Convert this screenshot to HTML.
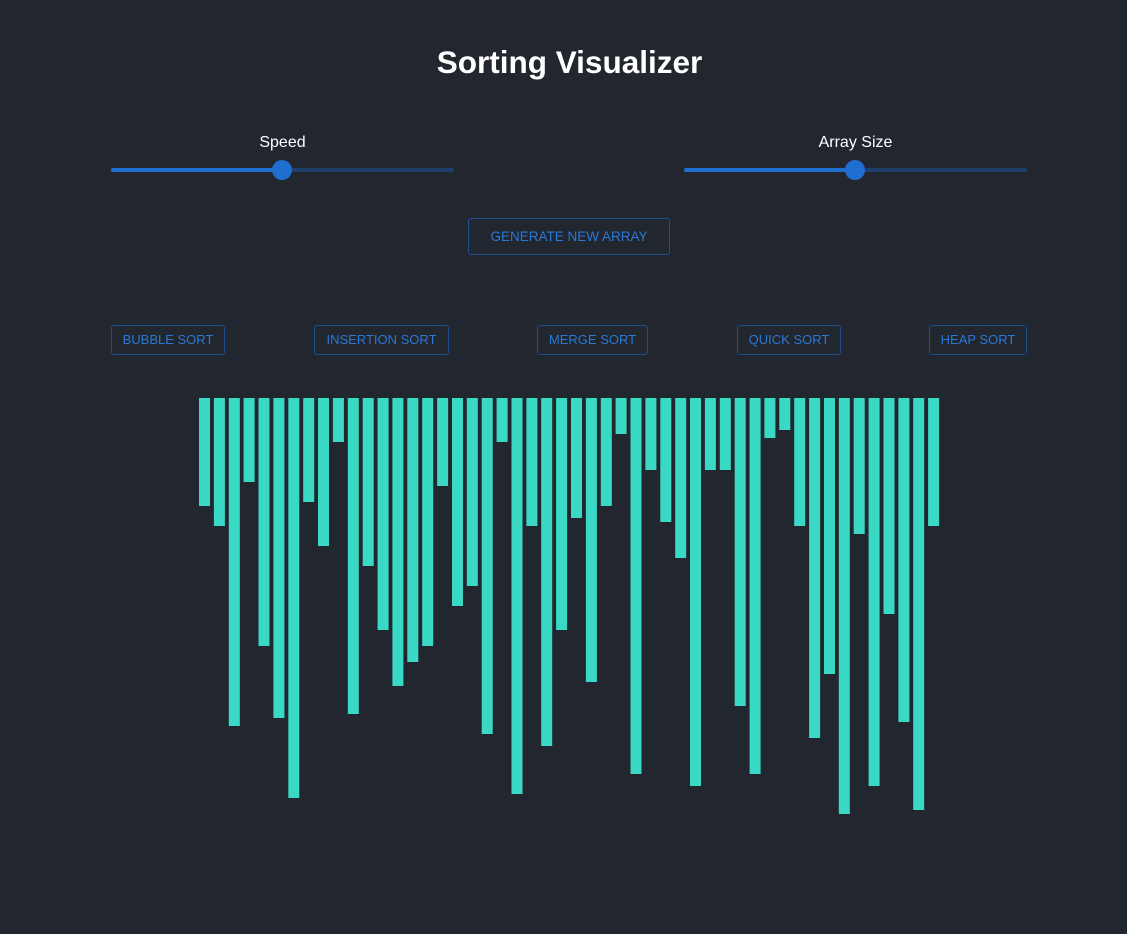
<!DOCTYPE html>
<html><head><meta charset="utf-8">
<style>
body{margin:0;width:1127px;height:934px;background:#22262e;font-family:"Liberation Sans",sans-serif;overflow:hidden;position:relative}
.abs{position:absolute}
h1{position:absolute;left:0;width:1139px;top:44px;margin:0;text-align:center;color:#fff;font-size:31.5px;font-weight:bold;letter-spacing:0px}
.lbl{color:#fff;font-size:16px;text-align:center;width:343px}
.track{height:4px;border-radius:2px;background:#1d3f6b;width:343px}
.fill{height:4px;border-radius:2px;background:#1f6fd0;position:absolute;left:0;top:0}
.thumb{width:20px;height:20px;border-radius:50%;background:#1f6fd0;position:absolute;top:-8px}
.btn{border:1px solid #1e4f8f;border-radius:3px;color:#2a78d6;font-size:13px;text-align:center;box-sizing:border-box;line-height:28px;height:30px}
</style></head><body>
<h1>Sorting Visualizer</h1>
<div class="abs lbl" style="left:111px;top:134px">Speed</div>
<div class="abs track" style="left:111px;top:168px"><div class="fill" style="width:171px"></div><div class="thumb" style="left:161px"></div></div>
<div class="abs lbl" style="left:684px;top:134px">Array Size</div>
<div class="abs track" style="left:684px;top:168px"><div class="fill" style="width:171px"></div><div class="thumb" style="left:161px"></div></div>
<div class="abs btn" style="left:468px;top:218px;width:202px;height:37px;line-height:35px;font-size:13.5px">GENERATE NEW ARRAY</div>
<div class="abs btn" style="left:111px;top:325px;width:114px">BUBBLE SORT</div>
<div class="abs btn" style="left:314px;top:325px;width:135px">INSERTION SORT</div>
<div class="abs btn" style="left:537px;top:325px;width:111px">MERGE SORT</div>
<div class="abs btn" style="left:737px;top:325px;width:104px">QUICK SORT</div>
<div class="abs btn" style="left:929px;top:325px;width:98px">HEAP SORT</div>
<svg class="abs" style="left:0;top:0" width="1127" height="934" id="chart"></svg>
<script>
const values=[27,32,82,21,62,80,100,26,37,11,79,42,58,72,66,62,22,52,47,84,11,99,32,87,58,30,71,27,9,94,18,31,40,97,18,18,77,94,10,8,32,85,69,104,34,97,54,81,103,32];
const barX0=199,barPitch=14.88,barW=11,barTop=398,barScale=4;
const chartSvg=document.getElementById('chart');
values.forEach((v,i)=>{
  const r=document.createElementNS('http://www.w3.org/2000/svg','rect');
  r.setAttribute('x',(barX0+i*barPitch).toFixed(1));
  r.setAttribute('y',barTop);
  r.setAttribute('width',barW);
  r.setAttribute('height',v*barScale);
  r.setAttribute('fill','#3ad9c6');
  
  
  chartSvg.appendChild(r);
});
</script>
</body></html>
